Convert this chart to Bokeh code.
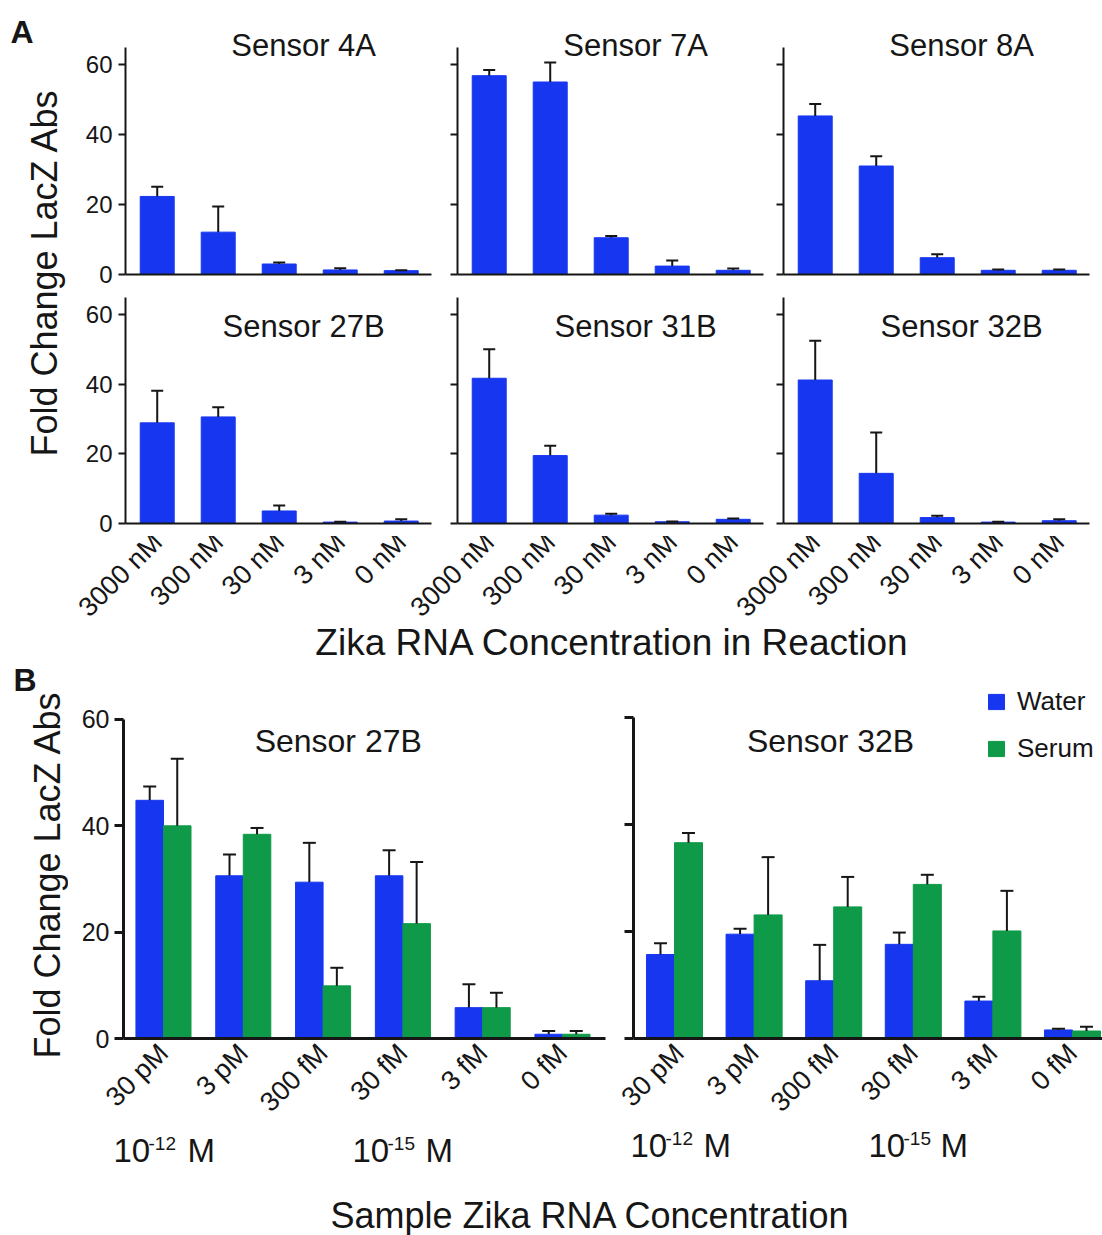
import math
from bokeh.plotting import figure
from bokeh.layouts import column, row
from bokeh.models import (Range1d, FixedTicker, Label, Whisker, TeeHead,
                          ColumnDataSource, Legend, LegendItem)
from bokeh.embed import file_html
from bokeh.resources import INLINE

FONT = "Liberation Sans"
INK = "#161616"
BLUE = "#1736F0"
GREEN = "#0E9A48"

# ---------------- data ----------------
conc_a = ["3000 nM", "300 nM", "30 nM", "3 nM", "0 nM"]
titles_a = ["Sensor 4A", "Sensor 7A", "Sensor 8A", "Sensor 27B", "Sensor 31B", "Sensor 32B"]
fold_4a = [22.3, 12.1, 3.0, 1.3, 1.1]
sd_4a = [2.8, 7.3, 0.4, 0.5, 0.1]
fold_7a = [56.8, 55.0, 10.5, 2.4, 1.2]
sd_7a = [1.6, 5.6, 0.5, 1.6, 0.5]
fold_8a = [45.3, 31.0, 4.8, 1.2, 1.2]
sd_8a = [3.4, 2.8, 1.0, 0.2, 0.2]
fold_27b = [28.9, 30.6, 3.6, 0.4, 0.7]
sd_27b = [9.2, 2.8, 1.6, 0.1, 0.5]
fold_31b = [41.7, 19.5, 2.4, 0.5, 1.2]
sd_31b = [8.3, 2.8, 0.4, 0.1, 0.2]
fold_32b = [41.2, 14.4, 1.7, 0.4, 0.8]
sd_32b = [11.3, 11.7, 0.5, 0.1, 0.4]

conc_b = ["30 pM", "3 pM", "300 fM", "30 fM", "3 fM", "0 fM"]
titles_b = ["Sensor 27B", "Sensor 32B"]
water_27b = [44.8, 30.6, 29.4, 30.6, 5.8, 0.8]
sd_water_27b = [2.6, 4.0, 7.4, 4.8, 4.4, 0.6]
serum_27b = [40.0, 38.4, 9.9, 21.6, 5.8, 0.8]
sd_serum_27b = [12.6, 1.2, 3.4, 11.6, 2.8, 0.6]
water_32b = [15.7, 19.5, 10.8, 17.6, 7.0, 1.6]
sd_water_32b = [2.1, 1.0, 6.7, 2.2, 0.8, 0.2]
serum_32b = [36.6, 23.1, 24.6, 28.8, 20.1, 1.4]
sd_serum_32b = [1.8, 10.8, 5.6, 1.8, 7.5, 0.8]

yticks = [0, 20, 40, 60]
series_names = ["Water", "Serum"]
exponent_groups = [("10", "-12", "M"), ("10", "-15", "M")]
ylabel_text = "Fold Change LacZ Abs"
xlabel_a = "Zika RNA Concentration in Reaction"
xlabel_b = "Sample Zika RNA Concentration"


def base_fig(w, h, bl, br, bt, bb, xr, yr):
    p = figure(width=w, height=h, x_range=Range1d(*xr), y_range=Range1d(*yr),
               min_border_left=bl, min_border_right=br, min_border_top=bt,
               min_border_bottom=bb, output_backend="svg", toolbar_location=None,
               tools="")
    p.outline_line_color = None
    p.xgrid.visible = False
    p.ygrid.visible = False
    return p


def label_fig(w, h, x0=0):
    p = figure(width=w, height=h, x_range=Range1d(x0, x0 + w), y_range=Range1d(0, h),
               min_border=0, x_axis_type=None, y_axis_type=None,
               output_backend="svg", toolbar_location=None, tools="")
    p.outline_line_color = None
    return p


def style_axes(p, lw, tick_out, ytop, ysize, show_y, ystandoff, xlabels, xsize, xstandoff):
    ya = p.yaxis[0]
    ya.ticker = FixedTicker(ticks=yticks)
    ya.bounds = (0, ytop)
    ya.axis_line_width = lw
    ya.axis_line_color = INK
    ya.major_tick_line_width = lw
    ya.major_tick_line_color = INK
    ya.major_tick_out = tick_out
    ya.major_tick_in = 0
    ya.minor_tick_line_color = None
    ya.major_label_text_font = FONT
    ya.major_label_text_color = INK
    ya.major_label_text_font_size = f"{ysize}px"
    if show_y:
        ya.major_label_standoff = ystandoff
    else:
        ya.major_label_overrides = {t: "" for t in yticks}
        ya.major_label_standoff = 0
    xa = p.xaxis[0]
    xa.axis_line_width = lw
    xa.axis_line_color = INK
    xa.major_tick_line_color = None
    xa.minor_tick_line_color = None
    xa.major_tick_out = 0
    xa.major_tick_in = 0
    if xsize:
        xa.ticker = FixedTicker(ticks=list(range(len(xlabels))))
        xa.major_label_overrides = {i: lab for i, lab in enumerate(xlabels)}
        xa.major_label_orientation = math.pi / 4
        xa.major_label_text_font = FONT
        xa.major_label_text_color = INK
        xa.major_label_text_font_size = f"{xsize}px"
        xa.major_label_standoff = xstandoff
    else:
        xa.ticker = FixedTicker(ticks=[])
        xa.major_label_standoff = 0


def add_bars(p, xs, vals, sds, width, color, head):
    src = ColumnDataSource(dict(x=xs, top=vals,
                                up=[v + s for v, s in zip(vals, sds)]))
    r = p.vbar(x="x", top="top", bottom=0, width=width, source=src,
               fill_color=color, line_color=color, line_width=1)
    wk = Whisker(base="x", lower="top", upper="up", dimension="height", source=src,
                 line_color=INK, line_width=2, lower_head=None,
                 upper_head=TeeHead(size=head, line_color=INK, line_width=2),
                 level="annotation")
    p.add_layout(wk)
    return r


def text_label(p, x, y, text, size, align="left", angle=0.0, bold=False):
    p.add_layout(Label(x=x, y=y, text=text, text_font=FONT, text_font_size=size,
                       text_font_style="bold" if bold else "normal",
                       text_color=INK, text_align=align, text_baseline="middle",
                       angle=angle))


# ---------------- panel A ----------------
A_SX = 61.0
A_X0 = -0.52
A_XR = (A_X0, A_X0 + 306 / A_SX)
col_left_px = [125, 457, 783]           # frame left (y axis) of each column, page px
cols = [(377, 57, 14), (327, 12, 9), (330, 11, 13)]
ROW1_TOP, ROW2_TOP, STRIP_TOP, A_BOT = 0, 288, 536, 665
rowspec = [  # h, bt, bb, px per unit, axis top px above baseline, title y
    (ROW2_TOP - ROW1_TOP, 15, ROW2_TOP - 274, 3.5, 227, 65.4),
    (STRIP_TOP - ROW2_TOP, 290 - ROW2_TOP, STRIP_TOP - 523, 3.483, 226, 56.6),
]
panel_a_data = [(fold_4a, sd_4a), (fold_7a, sd_7a), (fold_8a, sd_8a),
                (fold_27b, sd_27b), (fold_31b, sd_31b), (fold_32b, sd_32b)]

a_rows = []
k = 0
for ri, (h, bt, bb, sy, axtop, ty) in enumerate(rowspec):
    figs = []
    frame_h = h - bt - bb
    for ci, (w, bl, br) in enumerate(cols):
        p = base_fig(w, h, bl, br, bt, bb, A_XR, (0, frame_h / sy))
        style_axes(p, 2, 7, axtop / sy, 24, ci == 0, 6, conc_a, 0, 0)
        vals, sds = panel_a_data[k]
        add_bars(p, list(range(len(conc_a))), vals, sds, 0.557, BLUE, 12)
        text_label(p, 2.4, ty, titles_a[k], "31px", align="center")
        figs.append(p)
        k += 1
    a_rows.append(row(*figs, spacing=0))

# shared category-label strip under the lower row of panel A (page px scale)
tick_px = []
tick_lab = {}
for L in col_left_px:
    for i, lab in enumerate(conc_a):
        t = int(round(L + (i - A_X0) * A_SX))
        tick_px.append(t)
        tick_lab[t] = lab
strip_h = A_BOT - STRIP_TOP
strip = figure(width=1034, height=strip_h, x_range=Range1d(122, 1102), y_range=Range1d(0, 1),
               min_border_left=54, min_border_right=0, min_border_top=0,
               min_border_bottom=strip_h - 2, output_backend="svg", toolbar_location=None,
               tools="", y_axis_type=None)
strip.outline_line_color = None
strip.xgrid.visible = False
sx_ax = strip.xaxis[0]
sx_ax.ticker = FixedTicker(ticks=tick_px)
sx_ax.major_label_overrides = tick_lab
sx_ax.axis_line_color = None
sx_ax.major_tick_line_color = None
sx_ax.minor_tick_line_color = None
sx_ax.major_tick_out = 0
sx_ax.major_tick_in = 0
sx_ax.major_label_orientation = math.pi / 4
sx_ax.major_label_standoff = 1
sx_ax.major_label_text_font = FONT
sx_ax.major_label_text_font_size = "27px"
sx_ax.major_label_text_color = INK
sx_ax.axis_label = xlabel_a
sx_ax.axis_label_text_font = FONT
sx_ax.axis_label_text_font_size = "37px"
sx_ax.axis_label_text_font_style = "normal"
sx_ax.axis_label_text_color = INK
sx_ax.axis_label_standoff = -14

# ---------------- panel B ----------------
B_TOP, B_BOT = 665, 1131
B_H = B_BOT - B_TOP
B_BT = 10
B_BB = B_BOT - 1038
frame_hb = B_H - B_BT - B_BB

# left (Sensor 27B)
sxL, x0L, syL = 79.8, -0.501, 5.317
pL = base_fig(547, B_H, 55, 10, B_BT, B_BB, (x0L, x0L + 482 / sxL), (0, frame_hb / syL))
style_axes(pL, 3, 9, 60, 25, True, 5, conc_b, 27, 10)
off = 0.1725
xsb = list(range(len(conc_b)))
add_bars(pL, [x - off for x in xsb], water_27b, sd_water_27b, 0.345, BLUE, 13)
add_bars(pL, [x + off for x in xsb], serum_27b, sd_serum_27b, 0.345, GREEN, 13)
text_label(pL, 2.19, 56.0, titles_b[0], "32px", align="center")

# right (Sensor 32B)
sxR, x0R, syR = 79.6, -0.515, 5.35
pR = base_fig(487, B_H, 18, 0, B_BT, B_BB, (x0R, x0R + 469 / sxR), (0, frame_hb / syR))
style_axes(pR, 3, 9, 60, 25, False, 0, conc_b, 27, 10)
offR = 0.176
rw = add_bars(pR, [x - offR for x in xsb], water_32b, sd_water_32b, 0.352, BLUE, 13)
rs = add_bars(pR, [x + offR for x in xsb], serum_32b, sd_serum_32b, 0.352, GREEN, 13)
text_label(pR, 1.96, 55.7, titles_b[1], "32px", align="center")

legend = Legend(items=[LegendItem(label=series_names[0], renderers=[rw]),
                       LegendItem(label=series_names[1], renderers=[rs])],
                location=(353, 274), orientation="vertical", padding=0, margin=0,
                spacing=16, glyph_width=20, glyph_height=19, label_standoff=11,
                label_text_font=FONT, label_text_font_size="26px",
                label_text_color=INK, border_line_color=None,
                background_fill_alpha=0)
pR.add_layout(legend)

# exponent strip (page px scale)
EXP_TOP, EXP_BOT = B_BOT, 1195
expB = label_fig(1034, EXP_BOT - EXP_TOP, x0=68)


def exponent_label(p, xs, base_y, exp_y, parts):
    text_label(p, xs[0], EXP_BOT - base_y, parts[0], "33px")
    text_label(p, xs[1], EXP_BOT - exp_y, parts[1], "19px")
    text_label(p, xs[2], EXP_BOT - base_y, parts[2], "33px")


for xs, parts in zip([(113, 148, 187), (352, 387, 425)], exponent_groups):
    exponent_label(expB, xs, 1150, 1143, parts)
for xs, parts in zip([(630, 665, 703), (868, 903, 940)], exponent_groups):
    exponent_label(expB, xs, 1145, 1138, parts)

# left label column spanning both panels (page px scale)
labCol = label_fig(68, EXP_BOT)
text_label(labCol, 10, EXP_BOT - 31, "A", "32px", bold=True)
text_label(labCol, 44, EXP_BOT - 272, ylabel_text, "36px", align="center", angle=math.pi / 2)
text_label(labCol, 13, EXP_BOT - 679, "B", "32px", bold=True)
text_label(labCol, 47, EXP_BOT - 874, ylabel_text, "36px", align="center", angle=math.pi / 2)

xtB = label_fig(1102, 1235 - EXP_BOT)
text_label(xtB, 590, 1235 - 1215, xlabel_b, "36px", align="center")

right_block = column(
    a_rows[0], a_rows[1], row(strip),
    row(pL, pR, spacing=0), row(expB),
    spacing=0,
)

layout = column(
    row(column(labCol), right_block, spacing=0),
    row(xtB),
    spacing=0,
)

open("out.html", "w").write(file_html(layout, INLINE))
